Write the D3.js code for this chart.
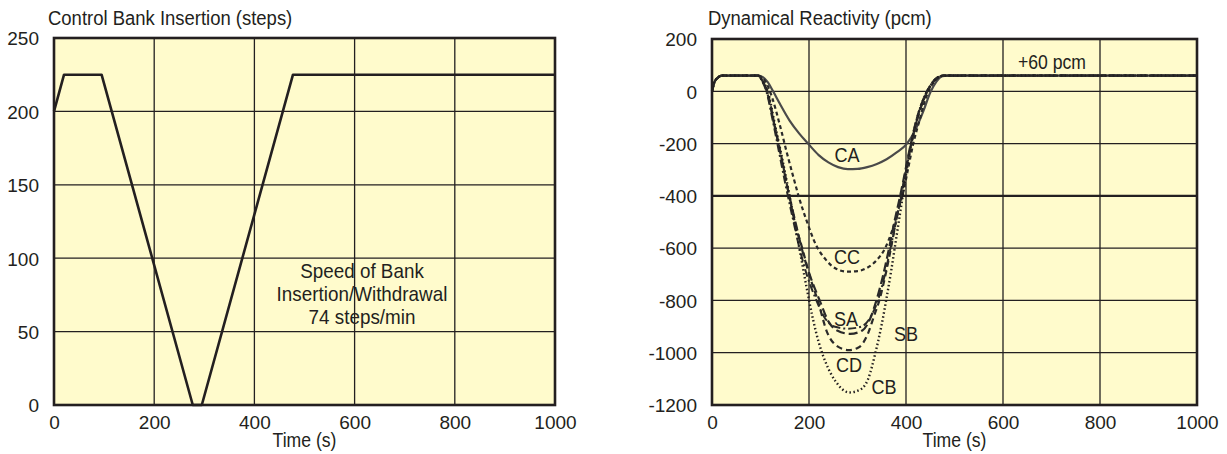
<!DOCTYPE html>
<html>
<head>
<meta charset="utf-8">
<script src="https://cdn.jsdelivr.net/npm/d3@7/dist/d3.min.js"></script>
<style>
	body { margin: 0; background: #fff; }
	text { font-family: "Liberation Sans", Arial, sans-serif; fill: #231f20; }
</style>
</head>
<body>
<svg id="chart" width="1227" height="454"></svg>
<script>
// ---- data ----
var timeTicks 	= [0, 200, 400, 600, 800, 1000];
var stepTicks 	= [0, 50, 100, 150, 200, 250];
var pcmTicks 	= [-1200, -1000, -800, -600, -400, -200, 0, 200];

// control bank position, [time s, steps]
var bankSteps = [[0, 200], [20, 225], [95, 225], [277, 0], [295, 0], [477, 225], [1000, 225]];

// dynamical reactivity per bank, [time s, pcm]
var rhoCA = [[0, 0], [5, 35], [12, 52], [20, 60], [95, 60], [105, 54], [115, 35], [126, 0], [140, -48], [160, -112],
	[180, -162], [198, -200], [220, -244], [240, -272], [260, -290], [280, -298], [300, -297], [320, -290], [340, -278],
	[360, -260], [380, -235], [402, -200], [420, -145], [436, -75], [450, -5], [462, 35], [475, 58], [485, 60], [1000, 60]];
var rhoCC = [[0, 0], [5, 35], [12, 52], [20, 60], [95, 60], [105, 50], [115, 20], [125, -30], [140, -130], [155, -240],
	[168, -330], [180, -410], [195, -495], [215, -590], [235, -645], [255, -678], [280, -690], [300, -688], [320, -675],
	[340, -645], [357, -600], [372, -530], [385, -450], [395, -380], [405, -290], [415, -200], [428, -110], [440, -30],
	[452, 20], [465, 50], [478, 60], [1000, 60]];
var rhoSA = [[0, 0], [5, 35], [12, 52], [20, 60], [95, 60], [104, 42], [113, 0], [127, -115], [142, -245], [157, -380],
	[172, -500], [187, -615], [203, -710], [222, -800], [240, -880], [258, -915], [285, -928], [310, -915], [326, -870],
	[339, -800], [352, -710], [364, -610], [376, -500], [388, -400], [399, -300], [410, -200], [423, -100], [437, -25],
	[451, 25], [465, 53], [477, 60], [1000, 60]];
var rhoSB = [[0, 0], [5, 35], [12, 52], [20, 60], [95, 60], [103, 40], [112, 0], [125, -110], [139, -240], [153, -370],
	[167, -490], [181, -605], [196, -705], [213, -790], [232, -865], [252, -900], [280, -908], [308, -900], [328, -860],
	[343, -795], [356, -705], [368, -600], [380, -495], [391, -395], [401, -295], [412, -195], [424, -100], [438, -25],
	[452, 27], [466, 54], [477, 60], [1000, 60]];
var rhoCD = [[0, 0], [5, 35], [12, 52], [20, 60], [95, 60], [104, 40], [114, 0], [128, -120], [143, -250], [158, -390],
	[172, -510], [186, -600], [202, -710], [218, -800], [237, -920], [258, -975], [282, -990], [302, -980], [322, -925],
	[334, -860], [345, -800], [358, -700], [370, -590], [381, -480], [392, -380], [402, -280], [413, -180], [426, -90],
	[440, -15], [454, 30], [467, 55], [478, 60], [1000, 60]];
var rhoCB = [[0, 0], [5, 35], [12, 52], [20, 60], [95, 60], [104, 40], [115, 0], [130, -130], [145, -260], [160, -400],
	[172, -520], [184, -640], [196, -760], [208, -870], [220, -960], [235, -1040], [255, -1110], [283, -1152],
	[305, -1142], [322, -1100], [337, -1000], [349, -900], [360, -790], [370, -680], [380, -560], [390, -440],
	[400, -320], [410, -210], [422, -110], [436, -30], [450, 20], [465, 52], [478, 60], [1000, 60]];

var bankNames  = ["CA", "CC", "SA", "SB", "CD", "CB"];
var bankSeries = [rhoCA, rhoCC, rhoSA, rhoSB, rhoCD, rhoCB];

var ink = "#231f20";
var svg = d3.select("#chart");

// the source uses a condensed face; squeeze a regular one horizontally
function condText( parent, x, y, str, size, sx, anchor ){
	return parent.append("text")
		.attr("transform", "translate(" + x + "," + y + ") scale(" + sx + ",1)")
		.attr("text-anchor", anchor || "start")
		.style("font-size", size + "px")
		.text(str);
}

function drawPanel( params ){
	var x = params.x, y = params.y;
	var g = svg.append("g").attr("class", params.className);
	var x0 = x.range()[0], x1 = x.range()[1];
	var y0 = y.range()[1], y1 = y.range()[0];

	g.append("rect")
		.attr("x", x0).attr("y", y0)
		.attr("width", x1 - x0).attr("height", y1 - y0)
		.attr("fill", "#fffbcc");

	// grid
	g.append("g").selectAll("line").data(params.xTicks.slice(1, -1)).join("line")
		.attr("x1", function(d){ return x(d); }).attr("x2", function(d){ return x(d); })
		.attr("y1", y0).attr("y2", y1)
		.attr("stroke", ink).attr("stroke-width", 1.3);
	g.append("g").selectAll("line").data(params.yTicks.slice(1, -1)).join("line")
		.attr("x1", x0).attr("x2", x1)
		.attr("y1", function(d){ return y(d); }).attr("y2", function(d){ return y(d); })
		.attr("stroke", ink)
		.attr("stroke-width", function(d){ return d == params.heavyY ? 2.2 : 1.3; });

	// axes (labels only, frame is drawn separately)
	var fmt = function(d){ return String(d); };
	var ax = g.append("g").attr("transform", "translate(0," + y1 + ")")
		.call(d3.axisBottom(x).tickValues(params.xTicks).tickFormat(fmt).tickSize(0).tickPadding(7));
	var ay = g.append("g").attr("transform", "translate(" + x0 + ",0)")
		.call(d3.axisLeft(y).tickValues(params.yTicks).tickFormat(fmt).tickSize(0).tickPadding(15));
	[ax, ay].forEach(function(a){
		a.select(".domain").remove();
		a.selectAll("text").attr("fill", ink)
			.style("font-size", "19px")
			.style("font-family", "'Liberation Sans', Arial, sans-serif");
	});
	ax.selectAll("text").attr("dy", "0.88em");
	ay.selectAll("text").attr("dy", "0.36em");

	condText(g, params.titleX, 25, params.title, 21, 0.88);
	condText(g, (x0 + x1) / 2, 447, "Time (s)", 21, 0.84, "middle");

	return g;
}

// ---- left panel ----
var xL = d3.scaleLinear().domain([0, 1000]).range([54, 555]);
var yL = d3.scaleLinear().domain([0, 250]).range([405, 38]);
var gL = drawPanel({ className: "bank", x: xL, y: yL, xTicks: timeTicks, yTicks: stepTicks,
	title: "Control Bank Insertion (steps)", titleX: 48 });

gL.append("path")
	.datum(bankSteps)
	.attr("fill", "none")
	.attr("stroke", ink)
	.attr("stroke-width", 2.6)
	.attr("stroke-linejoin", "round")
	.attr("d", d3.line().x(function(d){ return xL(d[0]); }).y(function(d){ return yL(d[1]); }));

["Speed of Bank", "Insertion/Withdrawal", "74 steps/min"].forEach(function(s, i){
	condText(gL, 362, 278 + i * 23, s, 20.5, 0.92, "middle");
});

gL.append("rect")
	.attr("x", 54).attr("y", 38).attr("width", 501).attr("height", 367)
	.attr("fill", "none").attr("stroke", ink).attr("stroke-width", 2.6);

// ---- right panel ----
var xR = d3.scaleLinear().domain([0, 1000]).range([712, 1197]);
var yR = d3.scaleLinear().domain([-1200, 200]).range([405, 39]);
var gR = drawPanel({ className: "rho", x: xR, y: yR, xTicks: timeTicks, yTicks: pcmTicks, heavyY: -400,
	title: "Dynamical Reactivity (pcm)", titleX: 708 });

var styles = {
	CA: { dash: null,        color: "#4a4a4a", width: 2.2 },
	CC: { dash: "4,3",       color: "#2a2a2a", width: 2.2 },
	SA: { dash: "9,4",       color: "#2a2a2a", width: 2.2 },
	SB: { dash: "8,3,2,3",   color: "#2a2a2a", width: 2 },
	CD: { dash: "6,4",       color: "#2a2a2a", width: 2.2 },
	CB: { dash: "1.5,2.5",   color: "#231f20", width: 2.4 }
};
var rhoLine = d3.line()
	.x(function(d){ return xR(d[0]); })
	.y(function(d){ return yR(d[1]); })
	.curve(d3.curveMonotoneX);

gR.append("g").selectAll("path").data(bankNames).join("path")
	.attr("fill", "none")
	.attr("stroke", function(n){ return styles[n].color; })
	.attr("stroke-width", function(n){ return styles[n].width; })
	.attr("stroke-dasharray", function(n){ return styles[n].dash; })
	.attr("d", function(n, i){ return rhoLine(bankSeries[i]); });

// curve labels
var labelPos = { CA: [847, 162], CC: [847, 264], SA: [846, 326], SB: [906, 341], CD: [849, 372], CB: [884, 394] };
bankNames.forEach(function(n){
	condText(gR, labelPos[n][0], labelPos[n][1], n, 21, 0.86, "middle");
});

condText(gR, 1052, 69, "+60 pcm", 21, 0.84, "middle");

gR.append("rect")
	.attr("x", 712).attr("y", 39).attr("width", 485).attr("height", 366)
	.attr("fill", "none").attr("stroke", ink).attr("stroke-width", 2.6);
</script>
</body>
</html>
